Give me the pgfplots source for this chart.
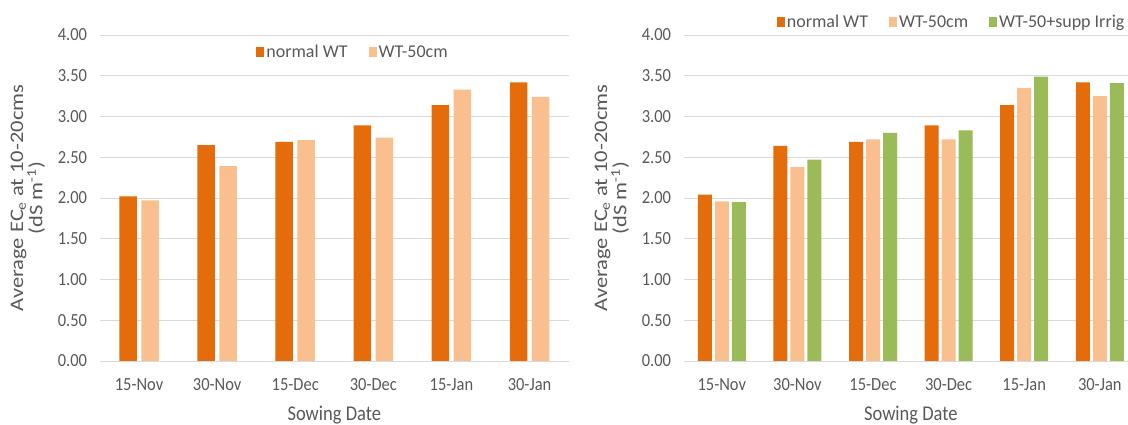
\documentclass[border=0pt]{standalone}
\usepackage{pgfplots}
\pgfplotsset{compat=1.18}
\usepackage{fontspec}
\setmainfont{Carlito}
\definecolor{cOrange}{HTML}{E46C0A}
\definecolor{cPeach}{HTML}{F9BF8F}
\definecolor{cGreen}{HTML}{9BBB59}
\definecolor{cText}{HTML}{595959}
\definecolor{cGrid}{HTML}{D9D9D9}

\pgfplotsset{
  mystyle/.style={
    scale only axis,
    ybar,
    ymin=0, ymax=4,
    xmin=-0.5, xmax=5.5,
    xtick={0,1,2,3,4,5},
    xticklabels={15-Nov,30-Nov,15-Dec,30-Dec,15-Jan,30-Jan},
    ytick={0,0.5,1,1.5,2,2.5,3,3.5,4},
    yticklabel style={/pgf/number format/.cd,fixed,fixed zerofill,precision=2,/tikz/.cd},
    /pgf/number format/assume math mode=true,
    ymajorgrids, grid style={cGrid, line width=0.8pt},
    axis line style={draw=none},
    major tick length=0pt,
    tick label style={font=\fontsize{18.5}{20}\selectfont, text=cText, xscale=0.89},
    xticklabel style={yshift=-14pt},
    yticklabel style={xshift=-11pt},
    xlabel={Sowing Date},
    xlabel style={font=\fontsize{21}{23}\selectfont, text=cText, xscale=0.88, at={(0.5,-0.166)}, anchor=center},
    ylabel={Average EC\textsubscript{e} at 10-20cms\\(dS m\textsuperscript{-1})},
    ylabel style={font=\fontsize{22.5}{21.5}\selectfont, text=cText, align=center, yscale=0.85, anchor=center},
    legend columns=-1,
    legend style={draw=none, fill=none, font=\fontsize{18}{20}\selectfont, text=cText, xscale=0.89, inner sep=0pt,
      /tikz/every even column/.append style={column sep=19pt}},
    legend image code/.code={\fill[##1] (-1pt,-5pt) rectangle (7pt,5pt);},
  }
}

\begin{document}
\begin{tikzpicture}
\useasboundingbox (0pt,0pt) rectangle (1128pt,425pt);

\begin{axis}[mystyle,
  at={(100pt,64pt)}, anchor=south west,
  width=468.6pt, height=326pt,
  bar width=17.5pt,
  ylabel style={at={(-0.154,0.50)}},
  legend style={at={(0.540,0.948)}, anchor=center},
]
\addplot[fill=cOrange, draw=none, bar shift=-11pt] coordinates {(0,2.02) (1,2.65) (2,2.69) (3,2.89) (4,3.14) (5,3.42)};
\addplot[fill=cPeach, draw=none, bar shift=11pt] coordinates {(0,1.97) (1,2.39) (2,2.71) (3,2.74) (4,3.33) (5,3.24)};
\legend{normal WT, WT-50cm}
\end{axis}

\begin{axis}[mystyle,
  at={(684pt,64pt)}, anchor=south west,
  width=453.6pt, height=326pt,
  bar width=14pt,
  ylabel style={at={(-0.159,0.50)}},
  legend style={at={(0.590,1.04)}, anchor=center},
]
\addplot[fill=cOrange, draw=none, bar shift=-17pt] coordinates {(0,2.04) (1,2.64) (2,2.69) (3,2.89) (4,3.14) (5,3.42)};
\addplot[fill=cPeach, draw=none, bar shift=0pt] coordinates {(0,1.96) (1,2.38) (2,2.72) (3,2.72) (4,3.35) (5,3.25)};
\addplot[fill=cGreen, draw=none, bar shift=17pt] coordinates {(0,1.95) (1,2.47) (2,2.80) (3,2.83) (4,3.49) (5,3.41)};
\legend{normal WT, WT-50cm, WT-50+supp Irrig}
\end{axis}
\end{tikzpicture}
\end{document}
